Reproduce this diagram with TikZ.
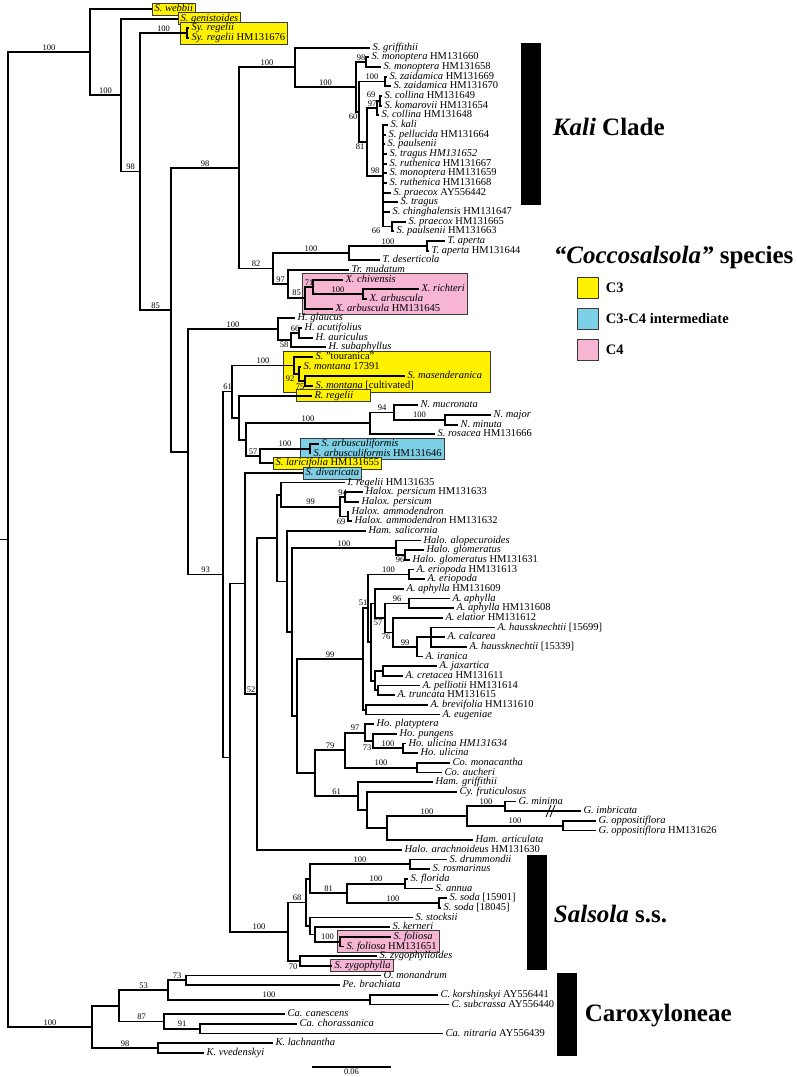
\documentclass[tikz,border=0pt]{standalone}
\usepackage{fontspec}
\setmainfont{Liberation Serif}
\usetikzlibrary{calc,fit,backgrounds}
\definecolor{cthree}{HTML}{FFF200}
\definecolor{cinter}{HTML}{7CCFE4}
\definecolor{cfour}{HTML}{F5B5D3}
\definecolor{rim}{HTML}{3A3A3A}

\begin{document}
\begin{tikzpicture}[x=1pt,y=-1pt,line width=1.8pt,
  tiplab/.style={anchor=west,inner xsep=1.6pt,inner ysep=0.3pt,text height=7.4pt,text depth=2.2pt,font=\fontsize{10.5}{11}\selectfont},
  bs/.style={font=\fontsize{8.5}{9}\selectfont,inner sep=0.8pt},
  cbox/.style={draw=rim,line width=0.8pt,inner sep=0pt,fill=#1},
  clade/.style={anchor=west,inner sep=0pt,font=\fontsize{25}{28}\selectfont\bfseries},
  key/.style={anchor=west,inner sep=0pt,font=\fontsize{14.5}{16}\selectfont\bfseries}]
\useasboundingbox (0,0) rectangle (796,1077);
\newcommand{\nd}[4]{\path let \p1=(#3),\p2=(#4) in (#2pt,{0.5*(\y1+\y2)}) coordinate (#1);}

% tips: row / branch end / label
\foreach \i/\x/\lab in {
  1/152/{\textit{S. webbii}}, 2/178/{\textit{S. genistoides}}, 3/189/{\textit{Sy. regelii}}, 4/189/{\textit{Sy. regelii} HM131676},
  5/370/{\textit{S. griffithii}}, 6/369/{\textit{S. monoptera} HM131660}, 7/381/{\textit{S. monoptera} HM131658},
  8/387/{\textit{S. zaidamica} HM131669}, 9/391/{\textit{S. zaidamica} HM131670}, 10/382/{\textit{S. collina} HM131649},
  11/382/{\textit{S. komarovii} HM131654}, 12/379/{\textit{S. collina} HM131648}, 13/388/{\textit{S. kali}},
  14/386/{\textit{S. pellucida} HM131664}, 15/385/{\textit{S. paulsenii}}, 16/387/{\textit{S. tragus HM131652}},
  17/387/{\textit{S. ruthenica} HM131667}, 18/387/{\textit{S. monoptera} HM131659}, 19/387/{\textit{S. ruthenica} HM131668},
  20/391/{\textit{S. praecox} AY556442}, 21/398/{\textit{S. tragus}}, 22/390/{\textit{S. chinghalensis} HM131647},
  23/406/{\textit{S. praecox} HM131665}, 24/394/{\textit{S. paulsenii} HM131663}, 25/445/{\textit{T. aperta}},
  26/429/{\textit{T. aperta} HM131644}, 27/380/{\textit{T. deserticola}}, 28/349/{\textit{Tr. mudatum}},
  29/343/{\textit{X. chivensis}}, 30/419/{\textit{X. richteri}}, 31/367/{\textit{X. arbuscula}}, 32/333/{\textit{X. arbuscula} HM131645},
  33/295/{\textit{H. glaucus}}, 34/302/{\textit{H. acutifolius}}, 35/313/{\textit{H. auriculus}}, 36/326/{\textit{H. subaphyllus}},
  37/313/{\textit{S.} "touranica"}, 38/301/{\textit{S. montana} 17391}, 39/405/{\textit{S. masenderanica}},
  40/313/{\textit{S. montana} [cultivated]}, 41/312/{\textit{R. regelii}}, 42/418/{\textit{N. mucronata}},
  43/491/{\textit{N. major}}, 44/458/{\textit{N. minuta}}, 45/435/{\textit{S. rosacea} HM131666},
  46/319/{\textit{S. arbusculiformis}}, 47/311/{\textit{S. arbusculiformis} HM131646}, 48/273/{\textit{S. laricifolia} HM131655},
  49/303/{\textit{S. divaricata}}, 50/345/{\textit{I. regelii} HM131635}, 51/363/{\textit{Halox. persicum} HM131633},
  52/359/{\textit{Halox. persicum}}, 53/349/{\textit{Halox. ammodendron}}, 54/352/{\textit{Halox. ammodendron} HM131632},
  55/366/{\textit{Ham. salicornia}}, 56/421/{\textit{Halo. alopecuroides}}, 57/424/{\textit{Halo. glomeratus}},
  58/410/{\textit{Halo. glomeratus} HM131631}, 59/414/{\textit{A. eriopoda} HM131613}, 60/425/{\textit{A. eriopoda}},
  61/404/{\textit{A. aphylla} HM131609}, 62/450/{\textit{A. aphylla}}, 63/454/{\textit{A. aphylla} HM131608},
  64/443/{\textit{A. elatior} HM131612}, 65/495/{\textit{A. haussknechtii} [15699]}, 66/445/{\textit{A. calcarea}},
  67/467/{\textit{A. haussknechtii} [15339]}, 68/423/{\textit{A. iranica}}, 69/437/{\textit{A. jaxartica}},
  70/403/{\textit{A. cretacea} HM131611}, 71/420/{\textit{A. pelliotii} HM131614}, 72/395/{\textit{A. truncata} HM131615},
  73/428/{\textit{A. brevifolia} HM131610}, 74/440/{\textit{A. eugeniae}}, 75/374/{\textit{Ho. platyptera}},
  76/397/{\textit{Ho. pungens}}, 77/406/{\textit{Ho. ulicina HM131634}}, 78/418/{\textit{Ho. ulicina}},
  79/450/{\textit{Co. monacantha}}, 80/442/{\textit{Co. aucheri}}, 81/433/{\textit{Ham. griffithii}},
  82/457/{\textit{Cy. fruticulosus}}, 83/516/{\textit{G. minima}}, 84/581/{\textit{G. imbricata}},
  85/596/{\textit{G. oppositiflora}}, 86/596/{\textit{G. oppositiflora} HM131626}, 87/473/{\textit{Ham. articulata}},
  88/402/{\textit{Halo. arachnoideus} HM131630}, 89/447/{\textit{S. drummondii}}, 90/430/{\textit{S. rosmarinus}},
  91/408/{\textit{S. florida}}, 92/433/{\textit{S. annua}}, 93/447/{\textit{S. soda} [15901]}, 94/441/{\textit{S. soda} [18045]},
  95/413/{\textit{S. stocksii}}, 96/390/{\textit{S. kerneri}}, 97/391/{\textit{S. foliosa}}, 98/344/{\textit{S. foliosa} HM131651},
  99/377/{\textit{S. zygophylloides}}, 100/332/{\textit{S. zygophylla}}, 101/381/{\textit{O. monandrum}},
  102/340/{\textit{Pe. brachiata}}, 103/438/{\textit{C. korshinskyi} AY556441}, 104/449/{\textit{C. subcrassa} AY556440},
  105/285/{\textit{Ca. canescens}}, 106/297/{\textit{Ca. chorassanica}}, 107/443/{\textit{Ca. nitraria} AY556439},
  108/273/{\textit{K. lachnantha}}, 109/204/{\textit{K. vvedenskyi}}}{
  \coordinate (t\i) at (\x,{9+9.665*(\i-1)});
  \node[tiplab] (l\i) at (t\i) {\lab};}

% internal nodes, children first
\nd{syr}{187}{t3}{t4}
\nd{mono}{366}{t6}{t7}
\nd{zaid}{385}{t8}{t9}
\nd{colA}{380}{t10}{t11}
\nd{colB}{377}{colA}{t12}
\nd{ppa}{392}{t23}{t24}
\nd{kali}{383}{t13}{ppa}
\nd{kB}{367}{colB}{kali}
\nd{kC}{359}{zaid}{kB}
\nd{kD}{356}{mono}{kC}
\nd{kE}{295}{t5}{kD}
\nd{tap}{427}{t25}{t26}
\nd{tT}{349}{tap}{t27}
\nd{xB}{363}{t30}{t31}
\nd{xA}{313}{t29}{xB}
\nd{xR}{305}{xA}{t32}
\nd{trX}{288}{t28}{xR}
\nd{tX}{273}{tT}{trX}
\nd{kT}{239}{kE}{tX}
\nd{hC}{299}{t34}{t35}
\nd{hB}{291}{hC}{t36}
\nd{hA}{278}{t33}{hB}
\nd{mC}{305}{t39}{t40}
\nd{mB}{299}{t38}{mC}
\nd{mA}{294}{t37}{mB}
\nd{nB}{445}{t43}{t44}
\nd{nA}{394}{t42}{nB}
\nd{nR}{370}{nA}{t45}
\nd{arb}{310}{t46}{t47}
\nd{lar}{260}{arb}{t48}
\nd{nl}{246}{nR}{lar}
\nd{rg}{239}{t41}{nl}
\nd{mo}{232}{mA}{rg}
\nd{hxP}{345}{t51}{t52}
\nd{hxA}{348}{t53}{t54}
\nd{hx}{340}{hxP}{hxA}
\nd{ir}{281}{t50}{hx}
\nd{hlG}{405}{t57}{t58}
\nd{hl}{396}{t56}{hlG}
\nd{er}{409}{t59}{t60}
\nd{ap}{409}{t62}{t63}
\nd{ha}{431}{t65}{t67}
\nd{ira}{417}{ha}{t68}
\nd{ela}{393}{t64}{ira}
\nd{aB}{385}{ap}{ela}
\nd{aA}{375}{t61}{aB}
\nd{jx}{383}{t69}{t70}
\nd{tr}{378}{t71}{t72}
\nd{jt}{375}{jx}{tr}
\nd{aC}{371}{aA}{jt}
\nd{aD}{368}{er}{aC}
\nd{bv}{366}{t73}{t74}
\nd{an}{363}{aD}{bv}
\nd{hoC}{403}{t77}{t78}
\nd{hoB}{373}{t76}{hoC}
\nd{hoA}{365}{t75}{hoB}
\nd{co}{417}{t79}{t80}
\nd{hc}{345}{hoA}{co}
\nd{gm}{505}{t83}{t84}
\nd{go}{563}{t85}{t86}
\nd{gg}{467}{gm}{go}
\nd{gh}{387}{gg}{t87}
\nd{cy}{367}{t82}{gh}
\nd{hg}{358}{t81}{cy}
\nd{hcg}{315}{hc}{hg}
\nd{ag}{297}{an}{hcg}
\nd{hag}{292}{hl}{ag}
\nd{sal}{287}{t55}{hag}
\nd{ihs}{277}{ir}{sal}
\nd{arc}{257}{ihs}{t88}
\nd{dv}{245}{t49}{arc}
\nd{dr}{410}{t89}{t90}
\nd{fl}{405}{t91}{t92}
\nd{so}{439}{t93}{t94}
\nd{fs}{347}{fl}{so}
\nd{drs}{310}{dr}{fs}
\nd{fo}{340}{t97}{t98}
\nd{ke}{315}{t96}{fo}
\nd{st}{310}{t95}{ke}
\nd{sA}{306}{drs}{st}
\nd{zy}{300}{t99}{t100}
\nd{ss}{288}{sA}{zy}
\nd{dss}{230}{dv}{ss}
\nd{core}{223}{mo}{dss}
\nd{hcore}{188}{hA}{core}
\nd{kcore}{171}{kT}{hcore}
\nd{sk}{140}{syr}{kcore}
\nd{gk}{121}{t2}{sk}
\nd{topn}{90}{t1}{gk}
\nd{om}{186}{t101}{t102}
\nd{cs}{370}{t103}{t104}
\nd{oc}{168}{om}{cs}
\nd{cc}{200}{t106}{t107}
\nd{cca}{164}{t105}{cc}
\nd{ocA}{119}{oc}{cca}
\nd{kv}{158}{t108}{t109}
\nd{car}{92}{ocA}{kv}
\nd{root}{8}{topn}{car}

% coloured boxes behind the names
\begin{scope}[on background layer]
\node[cbox=cthree,fit=(l1)] (bx1) {};
\node[cbox=cthree,fit=(l2)] (bx2) {};
\node[cbox=cthree,fit={(l3)(l4)(180,33)}] (bx3) {};
\node[cbox=cfour,fit={(l29)(l30)(l32)(302,290)(467,290)}] (bx4) {};
\node[cbox=cthree,fit={(l37)(l40)(283,370)(490,370)}] (bx5) {};
\node[cbox=cthree,fit={(l41)(296,396)(370,396)}] (bx6) {};
\node[cbox=cinter,fit={(l46)(l47)(300,448)}] (bx7) {};
\node[cbox=cthree,fit=(l48)] (bx8) {};
\node[cbox=cinter,fit=(l49)] (bx9) {};
\node[cbox=cfour,fit={(l97)(l98)(337,941)}] (bx10) {};
\node[cbox=cfour,fit={(l100)(330,966)}] (bx11) {};
\end{scope}

% branches
\draw (root) -- ++(-8,0);
\foreach \n in {13,...,22} \draw (kali) |- (t\n);
\foreach \pa/\ch in {topn/t1, gk/t2, syr/t3, syr/t4, kE/t5, mono/t6, mono/t7, zaid/t8, zaid/t9, colA/t10, colA/t11,
  colB/t12, ppa/t23, ppa/t24, tap/t25, tap/t26, tT/t27, trX/t28, xA/t29, xB/t30, xB/t31, xR/t32, hA/t33, hC/t34,
  hC/t35, hB/t36, mA/t37, mB/t38, mC/t39, mC/t40, rg/t41, nA/t42, nB/t43, nB/t44, nR/t45, arb/t46, arb/t47, lar/t48,
  dv/t49, ir/t50, hxP/t51, hxP/t52, hxA/t53, hxA/t54, sal/t55, hl/t56, hlG/t57, hlG/t58, er/t59, er/t60, aA/t61,
  ap/t62, ap/t63, ela/t64, ha/t65, ha/t66, ha/t67, ira/t68, jx/t69, jx/t70, tr/t71, tr/t72, bv/t73, bv/t74, hoA/t75,
  hoB/t76, hoC/t77, hoC/t78, co/t79, co/t80, hg/t81, cy/t82, gm/t83, gm/t84, go/t85, go/t86, gh/t87, arc/t88,
  dr/t89, dr/t90, fl/t91, fl/t92, so/t93, so/t94, st/t95, ke/t96, fo/t97, fo/t98, zy/t99, zy/t100, om/t101, om/t102,
  cs/t103, cs/t104, cca/t105, cc/t106, cc/t107, kv/t108, kv/t109,
  mo/rg, rg/nl, ira/ha, jt/jx, jt/tr, aC/jt, aD/aC, an/aD, an/bv, hag/ag, sal/hag, ihs/ir, ihs/sal, arc/ihs, dss/dv,
  sA/drs, sA/st, st/ke, core/dss, kcore/hcore, hg/cy, cy/gh, ag/hcg, car/ocA}
  \draw (\pa) |- (\ch);
\foreach \pa/\ch/\b in {root/topn/100, topn/gk/100, gk/sk/98, sk/syr/100, sk/kcore/85, kcore/kT/98, kT/kE/100,
  kE/kD/100, kD/mono/98, kC/zaid/100, kB/kali/98, kB/colB/97, kT/tX/82, tX/tT/100, tT/tap/100, tX/trX/97,
  trX/xR/85, xR/xA/71, xA/xB/100, hcore/hA/100, hB/hC/66, hcore/core/93, core/mo/61, mo/mA/100, nl/nR/100,
  nR/nA/94, nA/nB/100, nl/lar/57, lar/arb/100, ir/hx/99, hx/hxP/94, hag/hl/100, ag/an/99, aD/er/100, aB/ap/96,
  ela/ira/99, dv/arc/52, hcg/hc/79, hc/hoA/97, hoB/hoC/100, hc/co/100, hcg/hg/61, gh/gg/100, gg/gm/100,
  gg/go/100, dss/ss/100, ss/sA/68, drs/dr/100, drs/fs/81, fs/fl/100, fs/so/100, ke/fo/100, ocA/oc/53, oc/om/73,
  oc/cs/100, ocA/cca/87, cca/cc/91, car/kv/98, root/car/100}
  \draw (\pa) |- (\ch) node[bs,pos=0.75,above] (b-\ch) {\b};
% short branches: value set beside the node
\foreach \pa/\ch/\b/\lx/\ly in {kD/kC/60/353/117, kC/kB/81/360/147, colB/colA/69/371/95, kali/ppa/66/376/231,
  hA/hB/58/284/345, mA/mB/92/290/379, mB/mC/75/300/387, hx/hxA/69/341/522, hl/hlG/96/400/560,
  aC/aA/51/363/603, aA/aB/57/378/623, aB/ela/76/386/637, hoA/hoB/73/367/748, ss/zy/70/293/967}{
  \draw (\pa) |- (\ch);
  \node[bs] (b-\ch) at (\lx,\ly) {\b};}
% break on the long branch
\draw[line width=0.8pt] (546,817) -- (551,805) (550,817) -- (555,805);

% scale bar
\coordinate (sbL) at (312,1067);
\coordinate (sbR) at (391,1067);
\draw (sbL) -- (sbR) node[bs,midway,below=0.5pt] (sblab) {0.06};

% clade bars and key
\fill (521,43) rectangle (541,205);
\node[clade] (kalitxt) at (552,127) {\textit{Kali} Clade};
\node[clade] (coctxt) at (553,257) {\textit{“Coccosalsola”} species};
\foreach \k/\col/\txt in {0/cthree/C3, 1/cinter/C3-C4 intermediate, 2/cfour/C4}{
  \draw[cbox=\col] (577,{277+31*\k}) rectangle ++(21,21);
  \node[key] (key\k) at (605,{287.5+31*\k}) {\txt};}
\fill (527,855) rectangle (547,970);
\node[clade] (saltxt) at (553,914) {\textit{Salsola} s.s.};
\fill (557,973) rectangle (577,1056);
\node[clade] (cartxt) at (584,1016) {Caroxyloneae};
\end{tikzpicture}
\end{document}
